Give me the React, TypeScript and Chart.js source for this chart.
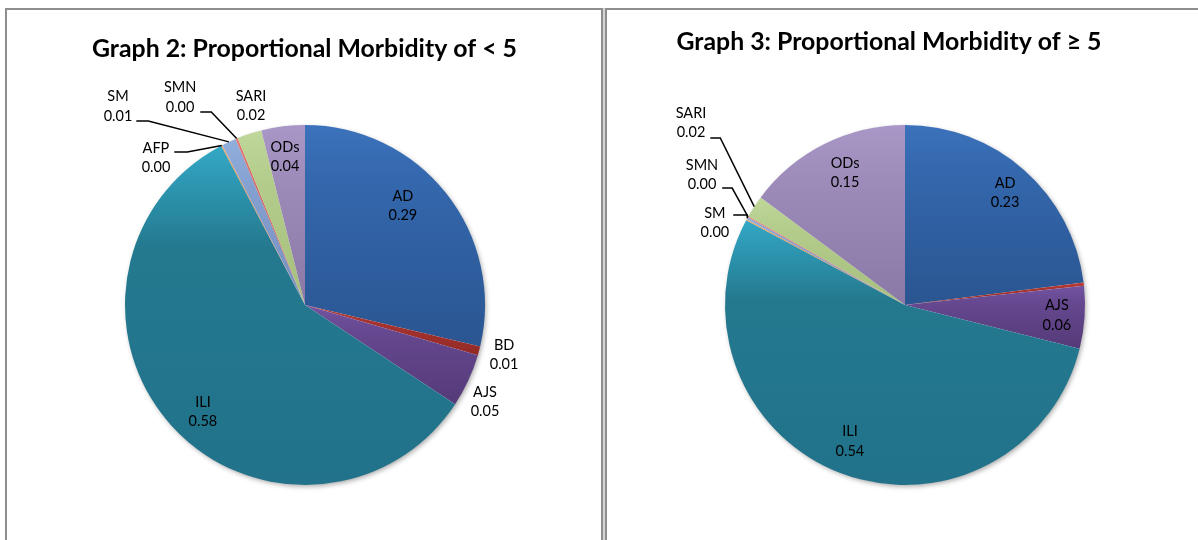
import React, { useEffect, useRef } from "react";
import { Chart, registerables } from "chart.js";

Chart.register(...registerables);

// ---------- data ----------
const CATEGORIES = ["AD", "BD", "AJS", "ILI", "AFP", "SM", "SMN", "SARI", "ODs"];
const UNDER5_VALUES = [0.287, 0.008, 0.048, 0.58, 0.001, 0.013, 0.002, 0.022, 0.039];
const OVER5_VALUES = [0.23, 0.003, 0.056, 0.539, 0.001, 0.002, 0.001, 0.02, 0.148];
const UNDER5_TITLE = "Graph 2: Proportional Morbidity of < 5";
const OVER5_TITLE = "Graph 3: Proportional Morbidity of \u2265 5";
const UNDER5_LABELED = ["AD", "BD", "AJS", "ILI", "AFP", "SM", "SMN", "SARI", "ODs"];
const OVER5_LABELED = ["AD", "AJS", "ILI", "SM", "SMN", "SARI", "ODs"];

// ---------- styles ----------
const COLOR_LIGHT = ["#3b72bb", "#bc3d38", "#7253a0", "#33a8c6", "#f6a458", "#92aedc", "#e27b76", "#bfd79a", "#a998c7"];
const COLOR_BASE = ["#3366ab", "#a8332f", "#64478e", "#24798f", "#e58a3a", "#84a0d0", "#d46762", "#b3cc8b", "#9d8bba"];
const COLOR_DARK = ["#2a5591", "#922a27", "#553a79", "#21728a", "#d07a2e", "#7790c0", "#c05954", "#a6bf7d", "#8a79a6"];

const FONT = "Lato, 'Open Sans', 'DejaVu Sans', sans-serif";
const TITLE_WIDTH = 425;

type LabelPos = { dx: number; dy: number; leader?: { dy: number; len: number } };

const UNDER5_LABEL_POS: Record<string, LabelPos> = {
  AD: { dx: 0.544, dy: -0.55 },
  BD: { dx: 1.106, dy: 0.278 },
  AJS: { dx: 1.0, dy: 0.539 },
  ILI: { dx: -0.567, dy: 0.594 },
  AFP: { dx: -0.828, dy: -0.817, leader: { dy: -6, len: 13 } },
  SM: { dx: -1.039, dy: -1.103, leader: { dy: 14.5, len: 12 } },
  SMN: { dx: -0.694, dy: -1.153, leader: { dy: 14.5, len: 11 } },
  SARI: { dx: -0.3, dy: -1.106 },
  ODs: { dx: -0.111, dy: -0.822 },
};

const OVER5_LABEL_POS: Record<string, LabelPos> = {
  AD: { dx: 0.556, dy: -0.622 },
  AJS: { dx: 0.844, dy: 0.056 },
  ILI: { dx: -0.306, dy: 0.756 },
  SM: { dx: -1.056, dy: -0.456, leader: { dy: -8, len: 14 } },
  SMN: { dx: -1.128, dy: -0.722, leader: { dy: 13, len: 10 } },
  SARI: { dx: -1.189, dy: -1.011, leader: { dy: 15, len: 10 } },
  ODs: { dx: -0.333, dy: -0.733 },
};

type PanelCfg = {
  values: number[];
  title: string;
  labeled: string[];
  labelPos: Record<string, LabelPos>;
  canvasLeft: number;
  canvasTop: number;
  width: number;
  height: number;
  padding: { left: number; right: number; top: number; bottom: number };
  titleX: number;
  titleBaseline: number;
};

function geometry(chart: any) {
  const a = chart.chartArea;
  const cx = (a.left + a.right) / 2;
  const cy = (a.top + a.bottom) / 2;
  const R = Math.min(a.right - a.left, a.bottom - a.top) / 2;
  return { cx, cy, R };
}

function sliceAngles(values: number[], i: number) {
  const total = values.reduce((s, v) => s + v, 0);
  let start = 0;
  for (let k = 0; k < i; k++) start += values[k];
  return { a0: (start / total) * 360, a1: ((start + values[i]) / total) * 360 };
}

function makeChart(canvas: HTMLCanvasElement, cfg: PanelCfg) {
  const values = cfg.values;
  const bg = (ctx: any) => {
    const chart = ctx.chart;
    const i = ctx.dataIndex;
    if (!chart.chartArea || i === undefined) return COLOR_BASE[i ?? 0];
    const { cx, cy, R } = geometry(chart);
    const { a0, a1 } = sliceAngles(values, i);
    const yAt = (deg: number) => cy - R * Math.cos((deg * Math.PI) / 180);
    let top = Math.min(cy, yAt(a0), yAt(a1));
    let bottom = Math.max(cy, yAt(a0), yAt(a1));
    if (a0 <= 0.0001 || a1 >= 359.999) top = cy - R;
    if (a0 <= 180 && a1 >= 180) bottom = cy + R;
    if (bottom - top < 2) bottom = top + 2;
    const g = chart.ctx.createLinearGradient(0, top, 0, bottom);
    g.addColorStop(0, COLOR_LIGHT[i]);
    g.addColorStop(0.3, COLOR_BASE[i]);
    g.addColorStop(1, COLOR_DARK[i]);
    return g;
  };

  const decor = {
    id: "decor",
    beforeDatasetsDraw(chart: any) {
      const { cx, cy, R } = geometry(chart);
      const c = chart.ctx;
      c.save();
      c.shadowColor = "rgba(0,0,0,0.35)";
      c.shadowBlur = 5;
      c.shadowOffsetX = 1.5;
      c.shadowOffsetY = 2;
      c.beginPath();
      c.arc(cx, cy, R - 0.5, 0, Math.PI * 2);
      c.fillStyle = "#ffffff";
      c.fill();
      c.restore();
    },
    afterDatasetsDraw(chart: any) {
      const { cx, cy, R } = geometry(chart);
      const c = chart.ctx;
      c.save();
      // title, sized to the reference width
      c.font = `bold 20px ${FONT}`;
      const w20 = c.measureText(cfg.title).width;
      const size = Math.min(26, (20 * TITLE_WIDTH) / w20);
      c.font = `bold ${size.toFixed(2)}px ${FONT}`;
      c.fillStyle = "#000";
      c.textAlign = "center";
      c.textBaseline = "alphabetic";
      c.fillText(cfg.title, cfg.titleX, cfg.titleBaseline);

      // data labels
      c.font = `14.5px ${FONT}`;
      c.textBaseline = "middle";
      const lineH = 19.5;
      CATEGORIES.forEach((name, i) => {
        if (!cfg.labeled.includes(name)) return;
        const pos = cfg.labelPos[name];
        if (!pos) return;
        const lx = cx + pos.dx * R;
        const ly = cy + pos.dy * R;
        const lines = [name, values[i].toFixed(2)];
        c.fillStyle = "#000";
        c.textAlign = "center";
        c.fillText(lines[0], lx, ly - lineH / 2);
        c.fillText(lines[1], lx, ly + lineH / 2);
        if (pos.leader) {
          const halfW = Math.max(...lines.map((t) => c.measureText(t).width)) / 2;
          const { a0, a1 } = sliceAngles(values, i);
          const mid = (((a0 + a1) / 2) * Math.PI) / 180;
          const px = cx + R * Math.sin(mid);
          const py = cy - R * Math.cos(mid);
          const side = px > lx ? 1 : -1;
          const sx = lx + side * (halfW + 4);
          const sy = ly + pos.leader.dy;
          const ex = sx + side * pos.leader.len;
          c.beginPath();
          c.moveTo(sx, sy);
          c.lineTo(ex, sy);
          c.lineTo(px, py);
          c.strokeStyle = "#000";
          c.lineWidth = 1.5;
          c.stroke();
        }
      });
      c.restore();
    },
  };

  return new Chart(canvas, {
    type: "pie",
    data: {
      labels: CATEGORIES,
      datasets: [
        {
          data: values,
          backgroundColor: bg as any,
          borderWidth: 0,
        },
      ],
    },
    options: {
      responsive: false,
      animation: false,
      layout: { padding: cfg.padding },
      plugins: {
        legend: { display: false },
        tooltip: { enabled: false },
        title: { display: false },
      },
    },
    plugins: [decor],
  });
}

const PANELS: PanelCfg[] = [
  {
    values: UNDER5_VALUES,
    title: UNDER5_TITLE,
    labeled: UNDER5_LABELED,
    labelPos: UNDER5_LABEL_POS,
    canvasLeft: 8,
    canvasTop: 10,
    width: 590,
    height: 530,
    padding: { left: 117, right: 113, top: 115, bottom: 55 },
    titleX: 296.5,
    titleBaseline: 47,
  },
  {
    values: OVER5_VALUES,
    title: OVER5_TITLE,
    labeled: OVER5_LABELED,
    labelPos: OVER5_LABEL_POS,
    canvasLeft: 609,
    canvasTop: 10,
    width: 589,
    height: 530,
    padding: { left: 116, right: 113, top: 115, bottom: 55 },
    titleX: 280,
    titleBaseline: 40,
  },
];

function PieCanvas({ cfg }: { cfg: PanelCfg }) {
  const ref = useRef<HTMLCanvasElement | null>(null);
  useEffect(() => {
    if (!ref.current) return;
    const chart = makeChart(ref.current, cfg);
    return () => chart.destroy();
  }, [cfg]);
  return (
    <canvas
      ref={ref}
      width={cfg.width}
      height={cfg.height}
      style={{
        position: "absolute",
        left: cfg.canvasLeft,
        top: cfg.canvasTop,
        width: cfg.width,
        height: cfg.height,
      }}
    />
  );
}

export default function App() {
  const borderColor = "#8e8e8e";
  return (
    <div
      style={{
        position: "fixed",
        left: 0,
        top: 0,
        width: 1198,
        height: 540,
        background: "#ffffff",
        overflow: "hidden",
      }}
    >
      <div
        style={{
          position: "absolute",
          left: 5,
          top: 8,
          width: 594,
          height: 600,
          borderTop: `2px solid ${borderColor}`,
          borderLeft: `2px solid ${borderColor}`,
          borderRight: `2px solid ${borderColor}`,
          boxSizing: "content-box",
        }}
      />
      <div
        style={{
          position: "absolute",
          left: 603,
          top: 8,
          width: 2,
          height: 600,
          background: "#d4d4d4",
        }}
      />
      <div
        style={{
          position: "absolute",
          left: 605,
          top: 8,
          width: 700,
          height: 600,
          borderTop: `2px solid ${borderColor}`,
          borderLeft: `2px solid ${borderColor}`,
        }}
      />
      {PANELS.map((p, i) => (
        <PieCanvas key={i} cfg={p} />
      ))}
    </div>
  );
}
